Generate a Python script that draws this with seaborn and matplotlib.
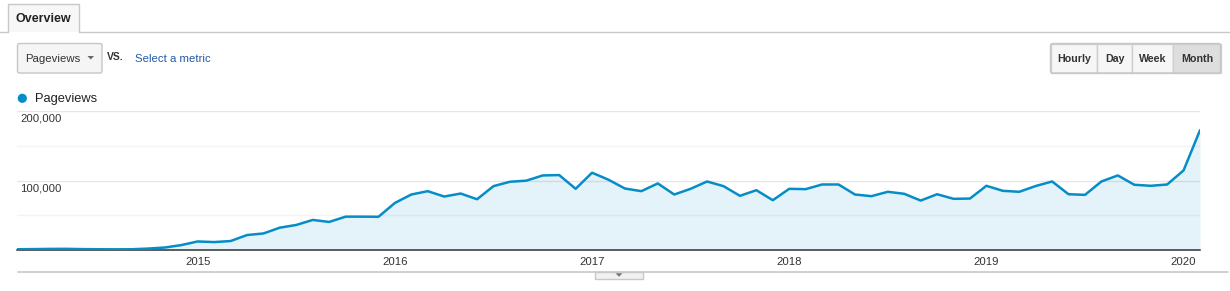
import numpy as np
import pandas as pd
import matplotlib
matplotlib.use('Agg')
import matplotlib.pyplot as plt
import matplotlib.transforms as mtransforms
from matplotlib.patches import FancyBboxPatch, Rectangle, Circle, Polygon
import seaborn as sns

# ---------------- data ----------------
months = pd.date_range('2014-02-01', '2020-02-01', freq='MS').strftime('%Y-%m').tolist()
pageviews = [
    1500, 1700, 2000, 2100, 1700, 1500, 1400, 1500, 2500, 4000, 7500,          # Feb14-Dec14
    12700, 11800, 13300, 21900, 24200, 32500, 36400, 43600, 40700, 48300, 48300, 48100,  # 2015
    68000, 80100, 84900, 77200, 81500, 73300, 92100, 98400, 100000, 107500, 108000, 88300,  # 2016
    111400, 101300, 88700, 84900, 96000, 80100, 88300, 98800, 92100, 78200, 86300, 71900,  # 2017
    88300, 87800, 94500, 94500, 80100, 77700, 84000, 81100, 71400, 80500, 73900, 74300,    # 2018
    92600, 85400, 84000, 92300, 98800, 80500, 79600, 98800, 107500, 94100, 92600, 94500,   # 2019
    114700, 172400,                                                                         # 2020
]
series_name = 'Pageviews'
ytick_values = [100000, 200000]
ytick_labels = ['100,000', '200,000']
minor_values = [50000, 150000]

# ---------------- style ----------------
sns.set_theme(style='white')
plt.rcParams['font.family'] = ['Liberation Sans', 'DejaVu Sans']

W, H = 1230, 291
fig = plt.figure(figsize=(W / 100, H / 100), dpi=100)
fig.patch.set_facecolor('white')

# overlay axes in pixel coordinates for UI decorations
ov = fig.add_axes([0, 0, 1, 1], zorder=0)
ov.set_xlim(0, W)
ov.set_ylim(H, 0)
ov.axis('off')

# top rule and Overview tab
ov.plot([0, 7.5], [32.3, 32.3], color='#c8c8c8', lw=1)
ov.plot([78.5, W], [32.3, 32.3], color='#c8c8c8', lw=1)
ov.add_patch(Rectangle((7.5, 4), 71, 28.3, facecolor='#f7f7f7', edgecolor='none'))
ov.plot([7.5, 7.5, 78.5, 78.5], [32.3, 4, 4, 32.3], color='#c8c8c8', lw=1)
ov.text(43, 18.5, 'Overview', ha='center', va='center', fontsize=9, fontweight='bold', color='#222222')

# metric dropdown
ov.add_patch(FancyBboxPatch((17.5, 43.5), 84.5, 29.5, boxstyle='round,pad=0,rounding_size=2',
                            facecolor='#f5f5f5', edgecolor='#c6c6c6', lw=1))
ov.text(25, 58.5, 'Pageviews', ha='left', va='center', fontsize=8.2, color='#333333')
ov.add_patch(Polygon([[87.5, 56], [94, 56], [90.75, 59.5]], closed=True, facecolor='#666666', edgecolor='none'))
ov.text(107, 57.5, 'VS.', ha='left', va='center', fontsize=7.5, color='#333333', fontweight='bold')
ov.text(135, 58.5, 'Select a metric', ha='left', va='center', fontsize=8.2, color='#2159a8')

# period buttons
segs = [('Hourly', 1050.5, 1097.3), ('Day', 1097.3, 1131.7), ('Week', 1131.7, 1173.3), ('Month', 1173.3, 1220.5)]
for name, x0, x1 in segs:
    fc = '#dedede' if name == 'Month' else '#f6f6f6'
    ov.add_patch(Rectangle((x0, 43.5), x1 - x0, 29.5, facecolor=fc, edgecolor='#cfcfcf', lw=1))
    ov.text((x0 + x1) / 2, 58.5, name, ha='center', va='center', fontsize=7.7,
            fontweight='bold', color='#333333')
ov.add_patch(FancyBboxPatch((1050.5, 43.5), 170, 29.5, boxstyle='round,pad=0,rounding_size=2',
                            facecolor='none', edgecolor='#c6c6c6', lw=1))

# legend
ov.add_patch(Circle((22.3, 98.3), 4.6, facecolor='#058dc7', edgecolor='none'))
ov.text(35.5, 98.8, series_name, ha='left', va='center', fontsize=9.3, color='#222222')

# bottom rule and slider tab
ov.plot([18, 1228], [271.7, 271.7], color='#c8c8c8', lw=1.2)
ov.add_patch(Rectangle((594.5, 271.7), 48.5, 7.5, facecolor='#f1f1f1', edgecolor='#c8c8c8', lw=1))
ov.add_patch(Polygon([[615.5, 273.3], [622.5, 273.3], [619, 276.8]], closed=True,
                     facecolor='#777777', edgecolor='none'))

# ---------------- main chart ----------------
left, right = 17 / W, 1200 / W
bottom, top = (H - 250.3) / H, (H - 111) / H
ax = fig.add_axes([left, bottom, right - left, top - bottom], zorder=1)
ax.set_facecolor('none')

df = pd.DataFrame({'idx': np.arange(len(months)), 'month': months, 'pageviews': pageviews})
ax.fill_between(df['idx'], df['pageviews'], 0, color='#058dc7', alpha=0.105, linewidth=0, zorder=1)
sns.lineplot(data=df, x='idx', y='pageviews', ax=ax, color='#058dc7', linewidth=1.8, zorder=3)

ax.set_xlim(0, len(months) - 1)
ax.set_ylim(0, 200000)

jan_idx = [i for i, m in enumerate(months) if m.endswith('-01')]
ax.set_xticks(jan_idx)
ax.set_xticklabels([months[i][:4] for i in jan_idx])
ax.tick_params(axis='x', length=0, pad=5, labelsize=8.2, labelcolor='#333333')

ax.set_yticks(ytick_values)
ax.set_yticks(minor_values, minor=True)
ax.set_yticklabels([])
ax.tick_params(axis='y', which='both', length=0, left=False, labelleft=False)
ax.grid(True, axis='y', which='major', color='#e6e6e6', lw=1)
ax.grid(True, axis='y', which='minor', color='#f3f3f3', lw=1)
ax.set_axisbelow(True)

trans = mtransforms.blended_transform_factory(ax.transAxes, ax.transData)
for v, lab in zip(ytick_values, ytick_labels):
    ax.text(0.0025, v - 4300, lab, transform=trans, ha='left', va='top', fontsize=8.2, color='#333333')

for s in ['top', 'left', 'right']:
    ax.spines[s].set_visible(False)
ax.spines['bottom'].set_color('#333333')
ax.spines['bottom'].set_linewidth(1.1)
ax.set_xlabel('')
ax.set_ylabel('')
if ax.get_legend():
    ax.get_legend().remove()

fig.savefig('out.png', dpi=100)
